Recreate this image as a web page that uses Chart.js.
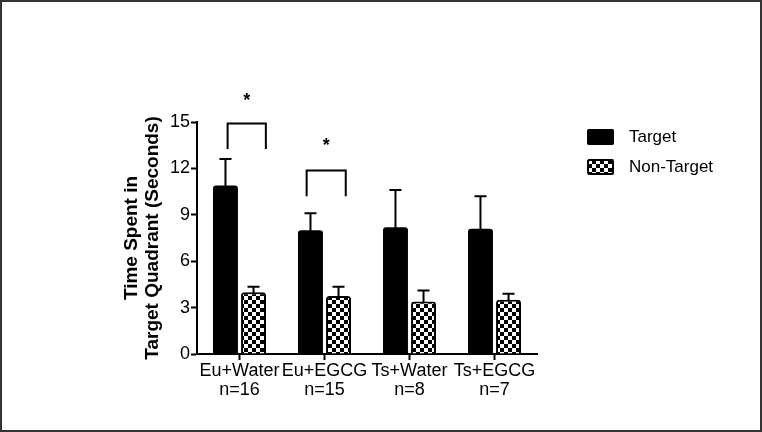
<!DOCTYPE html>
<html><head><meta charset="utf-8">
<script src="https://cdn.jsdelivr.net/npm/chart.js@4/dist/chart.umd.min.js"></script>
<style>html,body{margin:0;padding:0;background:#fff}</style>
</head><body><canvas id="c" width="762" height="432"></canvas>
<script>
// ---------- data ----------
const categories = [["Eu+Water","n=16"],["Eu+EGCG","n=15"],["Ts+Water","n=8"],["Ts+EGCG","n=7"]];
const seriesNames = ["Target","Non-Target"];
const targetMeans = [10.9, 8.0, 8.2, 8.1];
const targetErrTop = [12.6, 9.1, 10.6, 10.2];
const nonTargetMeans = [4.0, 3.75, 3.4, 3.5];
const nonTargetErrTop = [4.35, 4.35, 4.1, 3.9];
const yTicks = [0, 3, 6, 9, 12, 15];
const yTitle = ["Time Spent in", "Target Quadrant (Seconds)"];
const brackets = [
  {group: 0, top: 14.9, leg: 13.25, star: 16.6, label: "*"},
  {group: 1, top: 11.87, leg: 10.2, star: 13.7, label: "*"}
];

// ---------- style ----------
const FONT = "'Liberation Sans', Arial, sans-serif";
const bracketSpan = [[-0.14, 0.31], [-0.21, 0.25]];

function checker() {
  const c = document.createElement('canvas');
  const s = 4;
  c.width = 2 * s; c.height = 2 * s;
  const g = c.getContext('2d');
  g.fillStyle = '#fff'; g.fillRect(0, 0, 2 * s, 2 * s);
  g.fillStyle = '#000';
  g.fillRect(0, 0, s, s); g.fillRect(s, s, s, s);
  return g.createPattern(c, 'repeat');
}
const ctx0 = document.getElementById('c').getContext('2d');
const pattern = checker();
const errTops = [targetErrTop, nonTargetErrTop];

const extras = {
  id: 'extras',
  beforeDraw(chart) {
    const ctx = chart.ctx;
    ctx.save(); ctx.fillStyle = '#fff'; ctx.fillRect(0, 0, chart.width, chart.height); ctx.restore();
  },
  afterDatasetsDraw(chart) {
    const ctx = chart.ctx, ys = chart.scales.y, xs = chart.scales.x;
    ctx.save();
    ctx.strokeStyle = '#000'; ctx.lineWidth = 2; ctx.lineCap = 'butt';
    chart.data.datasets.forEach((ds, i) => {
      const meta = chart.getDatasetMeta(i);
      meta.data.forEach((bar, j) => {
        const yt = ys.getPixelForValue(errTops[i][j]);
        ctx.beginPath();
        ctx.moveTo(bar.x, bar.y + 1); ctx.lineTo(bar.x, yt);
        ctx.moveTo(bar.x - 6, yt); ctx.lineTo(bar.x + 6, yt);
        ctx.stroke();
      });
    });
    // significance brackets
    brackets.forEach((b, k) => {
      const x1 = xs.getPixelForValue(b.group + bracketSpan[k][0]);
      const x2 = xs.getPixelForValue(b.group + bracketSpan[k][1]);
      const yt = ys.getPixelForValue(b.top), yl = ys.getPixelForValue(b.leg);
      ctx.beginPath();
      ctx.moveTo(x1, yl); ctx.lineTo(x1, yt); ctx.lineTo(x2, yt); ctx.lineTo(x2, yl);
      ctx.stroke();
      ctx.fillStyle = '#000';
      ctx.font = "bold 18px " + FONT;
      ctx.textAlign = 'center'; ctx.textBaseline = 'middle';
      ctx.fillText(b.label, (x1 + x2) / 2, ys.getPixelForValue(b.star) + 4);
    });
    ctx.restore();
  },
  afterDraw(chart) {
    const ctx = chart.ctx;
    ctx.save();
    // legend
    const lx = 587, ly = [129, 159];
    chart.data.datasets.forEach((ds, i) => {
      ctx.beginPath();
      ctx.roundRect(lx, ly[i], 27, 16, 2);
      ctx.fillStyle = ds.backgroundColor; ctx.fill();
      ctx.lineWidth = 2; ctx.strokeStyle = '#000';
      ctx.beginPath(); ctx.roundRect(lx + 1, ly[i] + 1, 25, 14, 2); ctx.stroke();
      ctx.fillStyle = '#000'; ctx.font = "17px " + FONT;
      ctx.textAlign = 'left'; ctx.textBaseline = 'middle';
      ctx.fillText(ds.label, 629, ly[i] + 8);
    });
    // outer frame
    ctx.strokeStyle = '#333'; ctx.lineWidth = 2;
    ctx.strokeRect(1, 1, chart.width - 2, chart.height - 2);
    ctx.restore();
  }
};

new Chart(ctx0, {
  type: 'bar',
  data: {
    labels: categories,
    datasets: [
      {label: seriesNames[0], data: targetMeans, backgroundColor: '#000', borderColor: '#000', borderWidth: 0,
       borderRadius: {topLeft: 3, topRight: 3}, borderSkipped: 'bottom', categoryPercentage: 0.66, barPercentage: 0.89},
      {label: seriesNames[1], data: nonTargetMeans, backgroundColor: pattern, borderColor: '#000', borderWidth: 2,
       borderRadius: {topLeft: 3, topRight: 3}, borderSkipped: 'bottom', categoryPercentage: 0.66, barPercentage: 0.89}
    ]
  },
  options: {
    responsive: false, animation: false, devicePixelRatio: 1,
    layout: {padding: {left: 110, right: 225, top: 122, bottom: 18}},
    plugins: {legend: {display: false}, tooltip: {enabled: false}},
    scales: {
      x: {
        grid: {display: true, drawOnChartArea: false, offset: false, tickLength: 6, tickWidth: 2, tickColor: '#000'},
        border: {display: true, color: '#000', width: 2},
        ticks: {color: '#000', font: {family: FONT, size: 18, lineHeight: 1.03}, padding: 2, maxRotation: 0, autoSkip: false},
        afterFit(s) { s.height = 60; }
      },
      y: {
        min: 0, max: 15,
        afterBuildTicks(s) { s.ticks = yTicks.map(v => ({value: v})); },
        grid: {display: true, drawOnChartArea: false, tickLength: 6, tickWidth: 2, tickColor: '#000'},
        border: {display: true, color: '#000', width: 2},
        ticks: {color: '#000', font: {family: FONT, size: 18}, padding: 1},
        title: {display: true, text: yTitle, color: '#000',
                font: {family: FONT, size: 19, weight: 'bold', lineHeight: 1.12}, padding: {top: 11, bottom: 0}},
        afterFit(s) { s.width = 87; }
      }
    }
  },
  plugins: [extras]
});
</script></body></html>
